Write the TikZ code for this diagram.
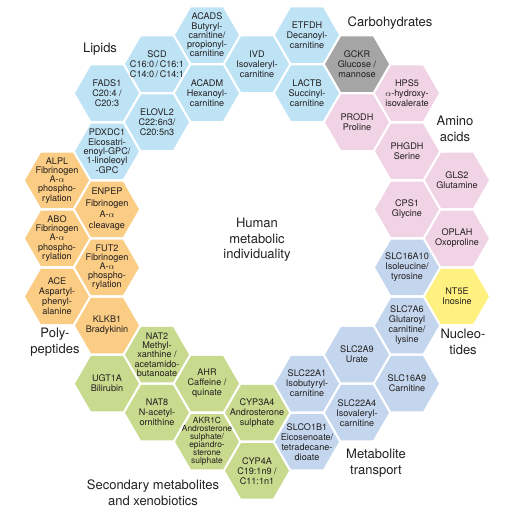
\documentclass[tikz,border=0pt]{standalone}
\usepackage{fontspec}
\setmainfont{TeX Gyre Heros}
\usepackage{tikz}

\definecolor{lipidblue}{RGB}{189,227,245}
\definecolor{transblue}{RGB}{196,214,237}
\definecolor{aminopink}{RGB}{240,211,228}
\definecolor{polyorange}{RGB}{251,204,132}
\definecolor{xenogreen}{RGB}{199,218,141}
\definecolor{nucleoyellow}{RGB}{255,241,128}
\definecolor{carbgrey}{RGB}{165,165,165}
\definecolor{textdark}{RGB}{35,31,32}

\newcommand{\hexfont}[1]{\fontsize{9.1}{#1}\selectfont}
% cell: [node options]{name}{column}{row}{colour}{text}
\newcommand{\hexcell}[6][]{%
  \fill[#5, shift={({57+50*#3},{6+29.05*#4})}] (0:32) -- (60:32) -- (120:32) -- (180:32) -- (240:32) -- (300:32) -- cycle;
  \node[hexlabel,#1] (#2) at ({57+50*#3},{6+29.05*#4}) {#6};
}

\begin{document}
\begin{tikzpicture}[x=1pt,y=-1pt,
  hexlabel/.style={align=center,inner sep=0pt,text=textdark,font=\hexfont{10}},
  catlabel/.style={align=center,inner sep=0pt,text=textdark,font=\fontsize{13}{15.6}\selectfont}]
\useasboundingbox (0,0) rectangle (512,512);

% lipids
\hexcell[font=\hexfont{9.3}]{acads}{3}{1}{lipidblue}{ACADS\\Butyryl-\\carnitine/\\propionyl-\\carnitine}
\hexcell{etfdh}{5}{1}{lipidblue}{ETFDH\\Decanoyl-\\carnitine}
\hexcell{scd}{2}{2}{lipidblue}{SCD\\C16:0\,/\,C16:1\\C14:0\,/\,C14:1}
\hexcell{ivd}{4}{2}{lipidblue}{IVD\\Isovaleryl-\\carnitine}
\hexcell{fads1}{1}{3}{lipidblue}{FADS1\\C20:4 /\\C20:3}
\hexcell{acadm}{3}{3}{lipidblue}{ACADM\\Hexanoyl-\\carnitine}
\hexcell{lactb}{5}{3}{lipidblue}{LACTB\\Succinyl-\\carnitine}
\hexcell{elovl2}{2}{4}{lipidblue}{ELOVL2\\C22:6n3/\\C20:5n3}
\hexcell[font=\hexfont{9.3}]{pdxdc1}{1}{5}{lipidblue}{PDXDC1\\Eicosatri-\\enoyl-GPC/\\1-linoleoyl\\-GPC}

% carbohydrates
\hexcell{gckr}{6}{2}{carbgrey}{GCKR\\Glucose /\\mannose}

% amino acids
\hexcell{hps5}{7}{3}{aminopink}{HPS5\\$\alpha$-hydroxy-\\isovalerate}
\hexcell{prodh}{6}{4}{aminopink}{PRODH\\Proline}
\hexcell{phgdh}{7}{5}{aminopink}{PHGDH\\Serine}
\hexcell{gls2}{8}{6}{aminopink}{GLS2\\Glutamine}
\hexcell{cps1}{7}{7}{aminopink}{CPS1\\Glycine}
\hexcell{oplah}{8}{8}{aminopink}{OPLAH\\Oxoproline}

% nucleotides
\hexcell{nt5e}{8}{10}{nucleoyellow}{NT5E\\Inosine}

% metabolite transport
\hexcell{slc16a10}{7}{9}{transblue}{SLC16A10\\Isoleucine/\\tyrosine}
\hexcell{slc7a6}{7}{11}{transblue}{SLC7A6\\Glutaroyl\\carnitine/\\lysine}
\hexcell{slc2a9}{6}{12}{transblue}{SLC2A9\\Urate}
\hexcell{slc22a1}{5}{13}{transblue}{SLC22A1\\Isobutyryl-\\carnitine}
\hexcell{slc16a9}{7}{13}{transblue}{SLC16A9\\Carnitine}
\hexcell{slc22a4}{6}{14}{transblue}{SLC22A4\\Isovaleryl-\\carnitine}
\hexcell{slco1b1}{5}{15}{transblue}{SLCO1B1\\Eicosenoate/\\tetradecane-\\dioate}

% secondary metabolites and xenobiotics
\hexcell[font=\hexfont{9.3}]{nat2}{2}{12}{xenogreen}{NAT2\\Methyl-\\xanthine /\\acetamido-\\butanoate}
\hexcell{ugt1a}{1}{13}{xenogreen}{UGT1A\\Bilirubin}
\hexcell{ahr}{3}{13}{xenogreen}{AHR\\Caffeine /\\quinate}
\hexcell{nat8}{2}{14}{xenogreen}{NAT8\\N-acetyl-\\ornithine}
\hexcell{cyp3a4}{4}{14}{xenogreen}{CYP3A4\\Androsterone\\sulphate}
\hexcell[font=\fontsize{8.4}{8}\selectfont]{akr1c}{3}{15}{xenogreen}{AKR1C\\Androsterone\\sulphate/\\epiandro-\\sterone\\sulphate}
\hexcell{cyp4a}{4}{16}{xenogreen}{CYP4A\\C19:1n9 /\\C11:1n1}

% polypeptides
\hexcell[font=\hexfont{9.3}]{alpl}{0}{6}{polyorange}{ALPL\\Fibrinogen\\A-$\alpha$\\phospho-\\rylation}
\hexcell[font=\hexfont{11.3}]{enpep}{1}{7}{polyorange}{ENPEP\\Fibrinogen\\A-$\alpha$\\cleavage}
\hexcell[font=\hexfont{9.3}]{abo}{0}{8}{polyorange}{ABO\\Fibrinogen\\A-$\alpha$\\phospho-\\rylation}
\hexcell[font=\hexfont{8.4}]{fut2}{1}{9}{polyorange}{FUT2\\Fibrinogen\\A-$\alpha$\\phospho-\\rylation}
\hexcell{ace}{0}{10}{polyorange}{ACE\\Aspartyl-\\phenyl-\\alanine}
\hexcell{klkb1}{1}{11}{polyorange}{KLKB1\\Bradykinin}

% group labels
\node[catlabel] (human) at (257,240) {Human\\metabolic\\individuality};
\node[catlabel] (lipids) at (100,49) {Lipids};
\node[catlabel] (carbo) at (390,23) {Carbohydrates};
\node[catlabel] (amino) at (455,129) {Amino\\acids};
\node[catlabel] (nucleo) at (463,342) {Nucleo-\\tides};
\node[catlabel] (transport) at (376,463) {Metabolite\\transport};
\node[catlabel] (secondary) at (153,493) {Secondary metabolites\\and xenobiotics};
\node[catlabel] (poly) at (55,342) {Poly-\\peptides};

\end{tikzpicture}
\end{document}
